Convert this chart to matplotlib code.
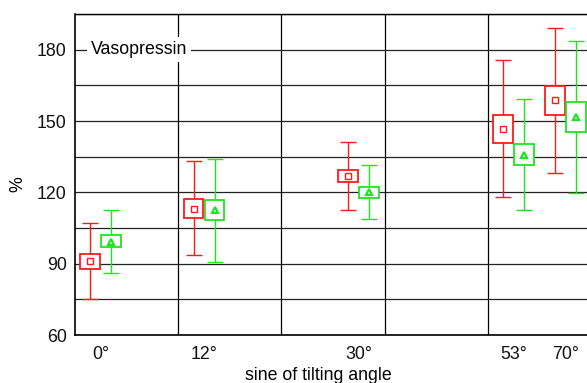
import numpy as np
import matplotlib
matplotlib.use("Agg")
import matplotlib.pyplot as plt

plt.rcParams['font.family'] = ['Liberation Sans', 'DejaVu Sans']

# x positions (sine of angle) and labels
angle_labels = ['0°', '12°', '30°', '53°', '70°']
angle_pos = [0.0, 0.2, 0.5, 0.8, 0.9]

# red series (square marker)
red_mid = [91.1, 113.2, 126.9, 146.8, 158.7]
red_box_lo = [87.9, 109.4, 124.3, 140.9, 152.7]
red_box_hi = [94.1, 117.3, 129.6, 152.4, 164.7]
red_wlo = [75.3, 93.5, 112.5, 118.0, 128.0]
red_whi = [107.0, 133.1, 141.2, 175.5, 189.1]

# green series (triangle marker)
grn_mid = [99.3, 112.6, 120.1, 135.7, 151.7]
grn_box_lo = [96.8, 108.3, 117.8, 131.3, 145.5]
grn_box_hi = [101.9, 116.6, 122.3, 140.3, 158.0]
grn_wlo = [86.2, 90.8, 108.6, 112.4, 119.8]
grn_whi = [112.4, 134.2, 131.7, 159.1, 183.8]

RED = '#ff1a1a'
GRN = '#1ee61e'

fig = plt.figure(figsize=(5.87, 3.83), dpi=100)
ax = fig.add_axes([75/587, 48/383, 512/587, 321/383])
ax.set_xlim(-0.05, 0.942)
ax.set_ylim(60, 195)

off = 0.0203
bw = 0.0385

def draw(series_x, mid, blo, bhi, wlo, whi, color, marker, ms, mew):
    x = np.array(series_x)
    mid = np.array(mid)
    ax.errorbar(x, mid, yerr=[mid - np.array(wlo), np.array(whi) - mid],
                fmt='none', ecolor=color, elinewidth=1.0, capsize=6,
                capthick=1.0, zorder=3)
    ax.bar(x, np.array(bhi) - np.array(blo), bottom=blo, width=bw,
           facecolor='white', edgecolor=color, linewidth=1.3, zorder=4)
    ax.plot(x, mid, linestyle='none', marker=marker, ms=ms, mfc='none',
            mec=color, mew=mew, zorder=5)

draw(np.array(angle_pos) - off, red_mid, red_box_lo, red_box_hi,
     red_wlo, red_whi, RED, 's', 5.0, 1.0)
draw(np.array(angle_pos) + off, grn_mid, grn_box_lo, grn_box_hi,
     grn_wlo, grn_whi, GRN, '^', 4.0, 1.6)

# ticks / grid
ax.set_xticks(angle_pos)
ax.set_xticklabels(angle_labels)
ax.set_xticks([0.15, 0.35, 0.55, 0.75], minor=True)
ax.set_yticks([60, 90, 120, 150, 180])
ax.set_yticks(np.arange(60, 196, 15), minor=True)
ax.grid(axis='x', which='minor', color='black', linewidth=0.9)
ax.grid(axis='y', which='both', color='#222222', linewidth=0.9)
ax.set_axisbelow(True)
ax.tick_params(axis='both', which='both', length=0, labelsize=12.8,
               labelcolor='#111111')
ax.tick_params(axis='x', pad=8)
ax.tick_params(axis='y', pad=6)

for s in ['left', 'bottom']:
    ax.spines[s].set_color('black')
    ax.spines[s].set_linewidth(1.2)
ax.spines['top'].set_linewidth(1.0)
ax.spines['right'].set_visible(False)

ax.set_xlabel('sine of tilting angle', fontsize=12.8)
ax.xaxis.set_label_coords(0.475, -0.1)
ax.set_ylabel('%', fontsize=12.8)
ax.yaxis.set_label_coords(-0.095, 0.47)

ax.text(-0.0195, 180, 'Vasopressin', fontsize=12.8, va='center', ha='left',
        bbox=dict(facecolor='white', edgecolor='none', pad=3), zorder=6)

fig.savefig('out.png', dpi=100)
